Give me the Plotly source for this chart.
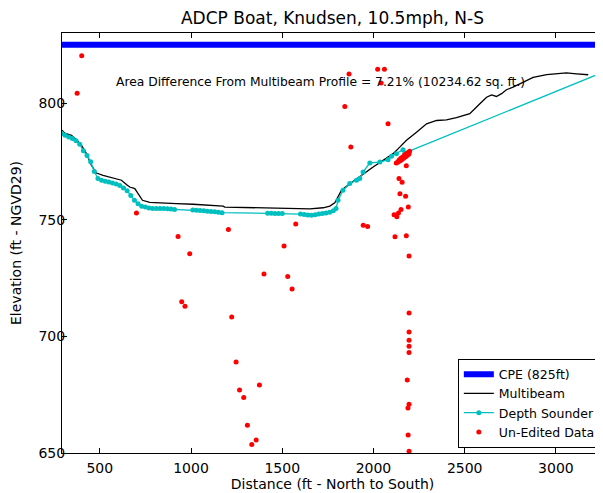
import plotly.graph_objects as go

# ---------------- data ----------------
cpe_x = [250, 3300]
cpe_y = [825, 825]

multibeam_x = [293, 308, 345, 372, 399, 427, 454, 482, 518, 573, 619, 646, 664, 692, 710, 734,
               774, 829, 920, 1011, 1103, 1176, 1185, 1322, 1505, 1651, 1724, 1761, 1788, 1806,
               1825, 1861, 1898, 1943, 1998, 2053, 2108, 2144, 2181, 2236, 2291, 2346, 2400,
               2455, 2528, 2583, 2620, 2647, 2674, 2702, 2729, 2765, 2820, 2875, 2949, 3021,
               3058, 3113, 3177]
multibeam_y = [788.3, 787.1, 786.1, 784.3, 781.9, 778.3, 773.3, 770.0, 769.0, 768.0, 766.9,
               765.1, 764.0, 763.3, 761.2, 758.3, 757.4, 757.1, 756.9, 756.6, 756.2, 755.8,
               755.4, 755.2, 754.8, 754.6, 755.1, 755.8, 757.2, 759.8, 762.6, 764.8, 766.9,
               769.8, 772.6, 775.4, 778.3, 781.1, 784.0, 787.5, 791.1, 792.5, 792.8, 793.7,
               795.4, 799.7, 802.5, 803.5, 802.8, 804.0, 805.7, 806.8, 808.9, 811.0, 812.2,
               812.5, 812.9, 812.5, 812.1]

sounder_x = [293, 310, 330, 350, 370, 390, 410, 430, 450, 470, 490, 510, 530, 550, 570, 590,
             610, 630, 650, 670, 690, 710, 730, 750, 770, 790, 810, 830, 850, 870, 890, 910,
             1010, 1030, 1050, 1070, 1090, 1110, 1130, 1150, 1170,
             1420, 1440, 1460, 1480, 1500,
             1600, 1620, 1640, 1660, 1680, 1700, 1720, 1740, 1760, 1780, 1795,
             1806, 1833, 1870, 1907, 1925, 1943, 1980, 2035, 2080, 2099, 2126, 2162, 2172,
             3300]
sounder_y = [786.9, 786.2, 785.4, 784.8, 783.8, 782.3, 779.5, 777.5, 774.8, 770.6, 767.6,
             766.9, 766.5, 766.1, 765.7, 765.3, 764.6, 763.6, 762.4, 760.4, 758.3, 756.8,
             755.8, 755.4, 755.0, 754.8, 754.8, 754.8, 754.8, 754.7, 754.6, 754.4,
             754.1, 754.0, 753.9, 753.8, 753.6, 753.5, 753.4, 753.2, 753.0,
             752.7, 752.7, 752.6, 752.6, 752.6,
             752.4, 752.2, 752.0, 751.9, 752.1, 752.4, 752.6, 752.9, 753.2, 753.8, 754.8,
             758.3, 762.6, 765.5, 766.9, 767.6, 770.4, 774.3, 774.7, 775.7, 777.2, 778.3,
             780.0, 778.6, 814.5]

raw_x = [401, 376, 1866, 2023, 2060, 2042, 1843, 2080, 1876, 701, 929, 993, 1205, 1574, 1510,
         1400, 1530, 1554, 949, 967, 1223, 1247, 1375, 1266, 1289, 1309, 1357, 1333, 1944,
         1968, 2113, 2128, 2137, 2151, 2191, 2145, 2176, 2140, 2157, 2180, 2118, 2180, 2195,
         2195, 2195, 2195, 2195, 2195, 2185, 2195, 2189, 2190, 2195,
         2125, 2132, 2138, 2145, 2150, 2155, 2160, 2165, 2170, 2175, 2180, 2185, 2190, 2195,
         2140, 2150, 2160, 2170, 2180, 2190, 2198]
raw_y = [820.3, 804.2, 812.4, 814.5, 814.5, 808.6, 798.5, 791.1, 781.1, 752.9, 742.8, 735.4,
         745.8, 748.1, 738.7, 726.7, 725.6, 720.3, 714.8, 712.9, 708.3, 689.0, 679.1, 677.0,
         673.8, 661.9, 655.6, 653.6, 747.6, 747.1, 752.1, 751.3, 752.9, 754.4, 755.4, 761.1,
         760.0, 767.6, 766.0, 773.1, 742.7, 743.1, 734.4, 710.0, 701.9, 698.3, 695.8, 693.1,
         681.3, 670.9, 669.3, 657.7, 650.8,
         774.3, 774.6, 774.9, 775.2, 775.5, 775.8, 776.1, 776.4, 776.7, 777.0, 777.3, 777.6,
         777.9, 778.3,
         775.6, 776.3, 776.9, 777.6, 778.2, 778.8, 779.3]

x_ticks = [500, 1000, 1500, 2000, 2500, 3000]
y_ticks = [650, 700, 750, 800]
x_range = [293, 3258]
y_range = [650, 830]

title_text = "ADCP Boat, Knudsen, 10.5mph, N-S"
x_label = "Distance (ft - North to South)"
y_label = "Elevation (ft - NGVD29)"
note_text = "Area Difference From Multibeam Profile = 7.21% (10234.62 sq. ft.)"
note_pos = (580, 809.2)

FONT = "DejaVu Sans"
W, H = 595, 485  # page adds an 8px body margin

fig = go.Figure()
fig.add_trace(go.Scatter(x=cpe_x, y=cpe_y, mode="lines", name="CPE (825ft)",
                         line=dict(color="#0000FF", width=6)))
fig.add_trace(go.Scatter(x=multibeam_x, y=multibeam_y, mode="lines", name="Multibeam",
                         line=dict(color="black", width=1.3)))
fig.add_trace(go.Scatter(x=sounder_x, y=sounder_y, mode="lines+markers", name="Depth Sounder",
                         line=dict(color="#00BFBF", width=1.3),
                         marker=dict(color="#00BFBF", size=5)))
fig.add_trace(go.Scatter(x=raw_x, y=raw_y, mode="markers", name="Un-Edited Data",
                         marker=dict(color="#FF0000", size=5)))

fig.add_annotation(x=note_pos[0], y=note_pos[1], text=note_text, showarrow=False,
                   xanchor="left", yanchor="middle",
                   font=dict(family=FONT, size=12.3, color="black"))

axis_common = dict(showgrid=False, zeroline=False, showline=True, linecolor="black",
                   linewidth=1, ticks="inside", ticklen=5, tickcolor="black",
                   mirror="ticks", tickfont=dict(family=FONT, size=14, color="black"))

fig.update_layout(
    width=W, height=H,
    margin=dict(l=54, r=0, t=25, b=40, autoexpand=False),
    paper_bgcolor="white", plot_bgcolor="white",
    font=dict(family=FONT, color="black"),
    title=dict(text=title_text, x=0.5, xref="paper", xanchor="center",
               y=1 - 10 / H, yref="container", yanchor="middle",
               font=dict(family=FONT, size=17, color="black")),
    xaxis=dict(range=x_range, tickvals=x_ticks, ticklabelstandoff=2,
               title=dict(text=x_label, font=dict(family=FONT, size=14), standoff=0),
               **axis_common),
    yaxis=dict(range=y_range, tickvals=y_ticks, ticklabelstandoff=-7,
               title=dict(text=y_label, font=dict(family=FONT, size=14), standoff=13),
               **axis_common),
    legend=dict(x=0.996, y=0.013, xanchor="right", yanchor="bottom",
                bgcolor="white", bordercolor="black", borderwidth=1,
                font=dict(family=FONT, size=12.5, color="black"),
                tracegroupgap=0, itemwidth=30),
    showlegend=True,
)

fig.write_html("out.html")
